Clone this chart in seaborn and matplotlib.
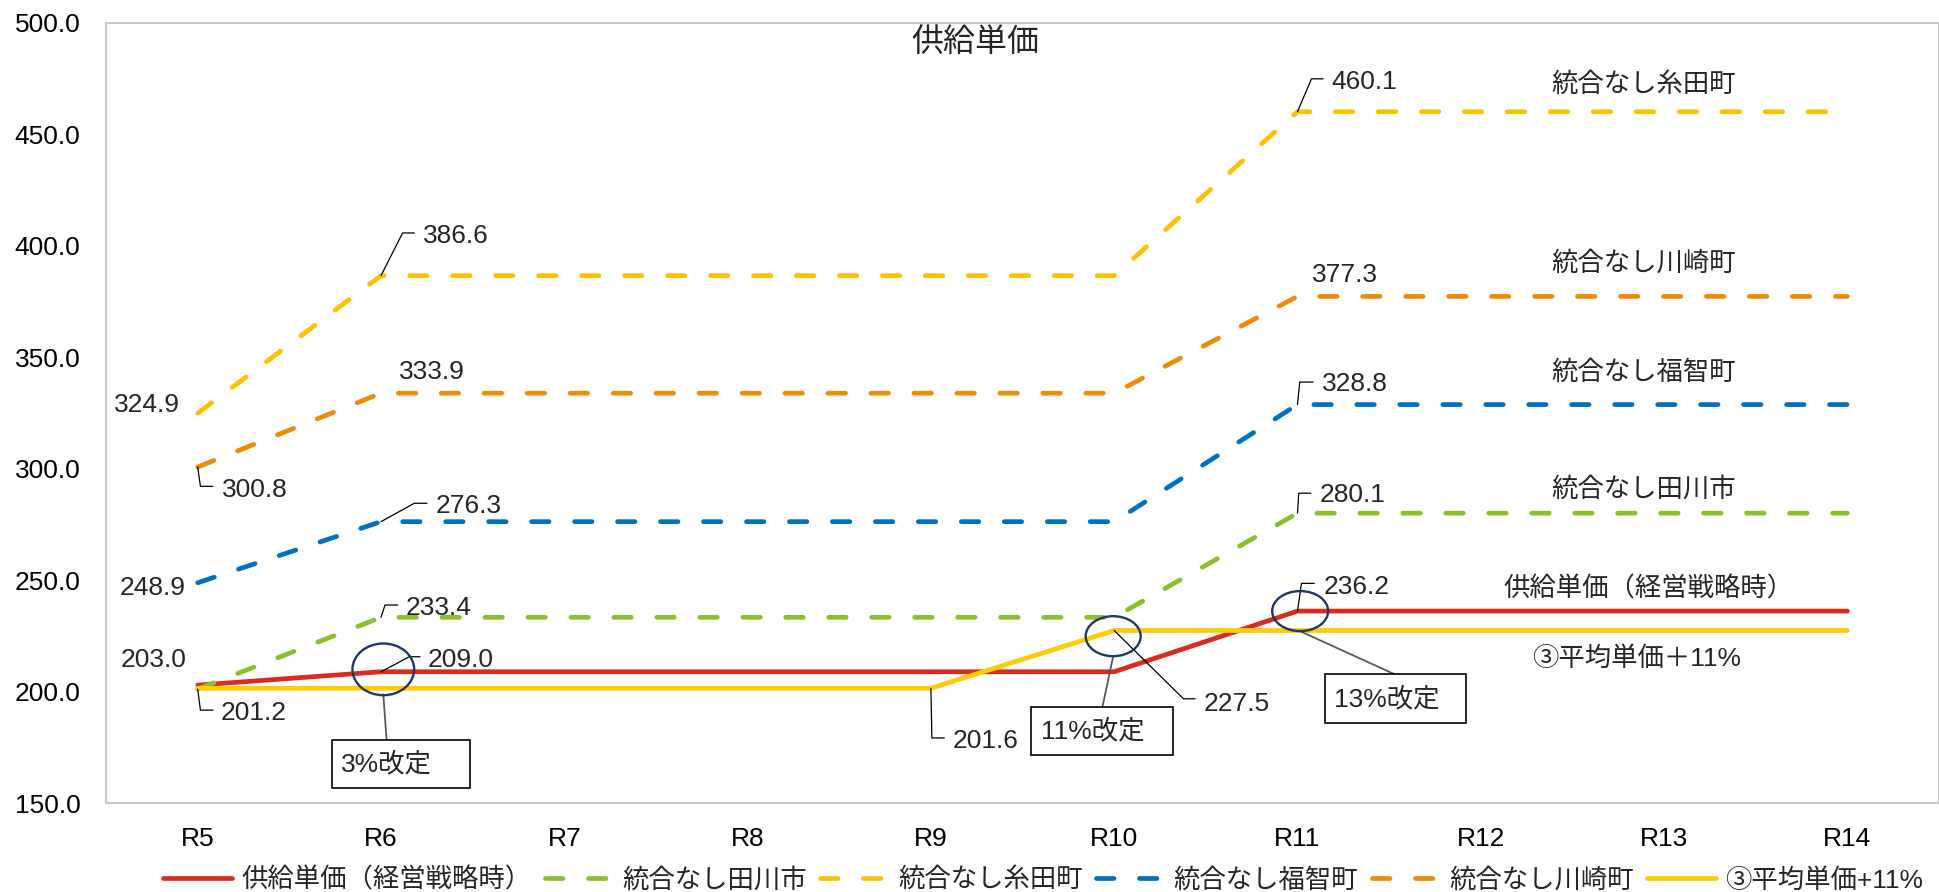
"""
供給単価 chart: supply unit price under the management strategy compared with
the no-merger cases for each town, fiscal years R5-R14.
"""

import numpy as np
import pandas as pd
import matplotlib.pyplot as plt
import seaborn as sns
from matplotlib.lines import Line2D
from matplotlib.patches import Ellipse, Rectangle
from matplotlib.transforms import IdentityTransform

# Data
years = ["R5", "R6", "R7", "R8", "R9", "R10", "R11", "R12", "R13", "R14"]
keiei = [203.0, 209.0, 209.0, 209.0, 209.0, 209.0, 236.2, 236.2, 236.2, 236.2]
tagawa = [201.2, 233.4, 233.4, 233.4, 233.4, 233.4, 280.1, 280.1, 280.1, 280.1]
itoda = [324.9, 386.6, 386.6, 386.6, 386.6, 386.6, 460.1, 460.1, 460.1, 460.1]
fukuchi = [248.9, 276.3, 276.3, 276.3, 276.3, 276.3, 328.8, 328.8, 328.8, 328.8]
kawasaki = [300.8, 333.9, 333.9, 333.9, 333.9, 333.9, 377.3, 377.3, 377.3, 377.3]
heikin = [201.6, 201.6, 201.6, 201.6, 201.6, 227.5, 227.5, 227.5, 227.5, 227.5]

series_names = ["供給単価（経営戦略時）", "統合なし田川市", "統合なし糸田町",
                "統合なし福智町", "統合なし川崎町", "③平均単価+11%"]
series_values = [keiei, tagawa, itoda, fukuchi, kawasaki, heikin]
series_colors = ["#DC2A1E", "#8CBF2E", "#FFC000", "#0070C0", "#EE8C0A", "#FFCC00"]
series_dashed = [False, True, True, True, True, False]

# names written inside the plot area, next to the right-hand end of each line
inline_names = ["供給単価（経営戦略時）", "統合なし田川市", "統合なし糸田町",
                "統合なし福智町", "統合なし川崎町", "③平均単価＋11%"]
inline_pos = [(7.915, 246.1), (7.891, 290.8), (7.891, 471.9),
              (7.891, 343.1), (7.891, 392.3), (7.849, 215.0)]

FS = 19

# Style
sns.set_style("white")
plt.rcParams["font.family"] = ["Liberation Sans", "Noto Sans CJK JP"]
plt.rcParams["lines.solid_capstyle"] = "round"
plt.rcParams["lines.dash_capstyle"] = "round"
plt.rcParams["lines.solid_joinstyle"] = "round"
plt.rcParams["lines.dash_joinstyle"] = "round"

df = pd.concat(
    [pd.DataFrame({"x": np.arange(len(years)), "単価": vals, "系列": name})
     for name, vals in zip(series_names, series_values)],
    ignore_index=True)

fig = plt.figure(figsize=(19.39, 8.92), dpi=100)
ax = fig.add_axes([0.0547, 0.0994, 0.9453, 0.8751])

sns.lineplot(data=df, x="x", y="単価", hue="系列", style="系列",
             hue_order=series_names, style_order=series_names,
             palette=dict(zip(series_names, series_colors)),
             dashes={n: ((3.7, 5.4) if d else "") for n, d in zip(series_names, series_dashed)},
             linewidth=3.4, errorbar=None, legend=False, ax=ax)
series_lines = list(ax.lines)

# Axes
ax.set_xlim(-0.5, len(years) - 0.5)
ax.set_ylim(150, 500)
ax.set_xticks(np.arange(len(years)), labels=years)
ax.set_xticks(np.arange(0.5, len(years) - 1, 1), minor=True)
ax.set_yticks(np.arange(150, 501, 50), labels=[f"{v:.1f}" for v in np.arange(150, 501, 50)])
ax.set_xlabel("")
ax.set_ylabel("")
ax.tick_params(axis="both", which="major", length=0, labelsize=FS, labelcolor="black")
ax.tick_params(axis="x", which="major", pad=17)
ax.tick_params(axis="y", which="major", pad=18.5)
ax.tick_params(axis="x", which="minor", direction="in", length=5, width=1.3, color="#BFBFBF")
for s in ax.spines.values():
    s.set_color("#C8C8C8")
    s.set_linewidth(1.5)


def to_px(i, v):
    return ax.transData.transform((i, v))


def value_label(vals, i, dx, dy, ha="left", leader=None):
    """Data label offset in pixels from the point, with an optional leader line."""
    x0, y0 = to_px(i, vals[i])
    ax.annotate(f"{vals[i]:.1f}", (i, vals[i]), xytext=(dx, dy), textcoords="offset pixels",
                ha=ha, va="center_baseline", fontsize=FS, annotation_clip=False)
    if leader:
        xs = [x0] + [x0 + a for a, b in leader]
        ys = [y0] + [y0 + b for a, b in leader]
        ax.add_line(Line2D(xs, ys, transform=IdentityTransform(), color="black",
                           lw=0.9, clip_on=False, zorder=4))


def revision_note(vals, i, text, ring, box, link):
    """Circle round a point, joined by a grey line to a boxed note."""
    x0, y0 = to_px(i, vals[i])
    ax.add_patch(Ellipse((x0 + ring[0], y0 + ring[1]), ring[2], ring[3],
                         transform=IdentityTransform(), fill=False, edgecolor="#1F3864",
                         lw=1.7, clip_on=False, zorder=5))
    ax.add_line(Line2D([x0 + link[0][0], x0 + link[1][0]], [y0 + link[0][1], y0 + link[1][1]],
                       transform=IdentityTransform(), color="#595959", lw=1.3,
                       clip_on=False, zorder=4))
    left, right, bottom, top = box
    ax.add_patch(Rectangle((x0 + left, y0 + bottom), right - left, top - bottom,
                           transform=IdentityTransform(), facecolor="white", edgecolor="black",
                           lw=1.2, clip_on=False, zorder=5))
    ax.text(x0 + left + 9.3, y0 + (bottom + top) / 2, text, transform=IdentityTransform(),
            ha="left", va="center", fontsize=FS, zorder=6)


# Data labels
value_label(itoda, 0, -17.7, 10.4, ha="right")
value_label(itoda, 1, 41.6, 41.7, leader=[(21.6, 42.7), (33.3, 42.7)])
value_label(itoda, 6, 34, 32.1, leader=[(14, 32.9), (25.7, 32.9)])
value_label(kawasaki, 0, 24, -20, leader=[(2.7, -19.3), (15, -19.3)])
value_label(kawasaki, 1, 17.6, 23.3)
value_label(kawasaki, 6, 15, 24)
value_label(fukuchi, 0, -11.7, -3.1, ha="right")
value_label(fukuchi, 1, 54.3, 18.4, leader=[(33.3, 18.4), (46, 18.4)])
value_label(fukuchi, 6, 24.7, 23.2, leader=[(2.3, 22.5), (15.7, 22.5)])
value_label(tagawa, 0, 23.4, -21.4, leader=[(2.7, -21), (15.4, -21)])
value_label(tagawa, 1, 25, 12.3, leader=[(4, 12.3), (16.7, 12.3)])
value_label(tagawa, 6, 22.3, 21, leader=[(1.3, 20), (13.3, 20)])
value_label(keiei, 0, -11.7, 27.6, ha="right")
value_label(keiei, 1, 46.6, 14.2, leader=[(28.3, 15), (39, 15)])
value_label(keiei, 6, 25.7, 26.7, leader=[(4, 27.7), (16.7, 27.7)])
value_label(heikin, 4, 21.7, -50.7, leader=[(1, -49.7), (13.4, -49.7)])
value_label(heikin, 5, 89, -70.7, leader=[(69.3, -68.3), (81, -68.3)])

# Revision notes
revision_note(keiei, 1, "3%改定", (2.3, 2.4, 61.7, 51.7), (-49, 89, -116.6, -68.3),
              ((2.3, -22.6), (5.6, -68.3)))
revision_note(heikin, 5, "11%改定", (-1, -5.7, 55, 40), (-82.7, 59, -124.7, -76.3),
              ((-1, -25.7), (-11.7, -76.3)))
revision_note(keiei, 6, "13%改定", (2.7, 0, 56, 40), (27.4, 169, -111.6, -63.3),
              ((2.4, -20), (97.4, -63.3)))

# Series names inside the plot
for name, (px, py) in zip(inline_names, inline_pos):
    ax.text(px, py, name, ha="center", va="center", fontsize=FS)

fig.text(0.5028, 0.9507, "供給単価", ha="center", va="center", fontsize=23)

fig.legend(series_lines, series_names, loc="center", bbox_to_anchor=(0.538, 0.0135),
           ncol=6, frameon=False, fontsize=FS, handlelength=2.6, handletextpad=0.35,
           columnspacing=0.5, borderaxespad=0, borderpad=0)

fig.savefig("out.png", dpi=100)
